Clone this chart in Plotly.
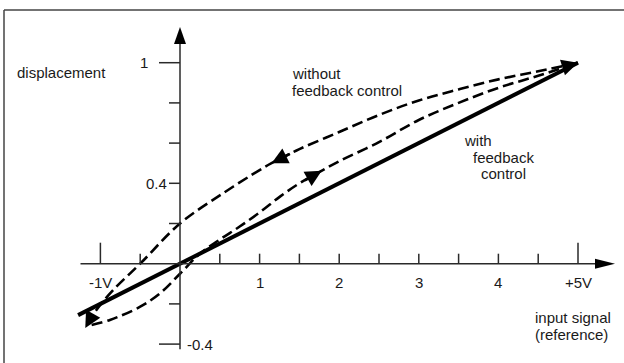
import plotly.graph_objects as go

# ---- data ----
x_with = [-1.28, 0.0, 5.0]
y_with = [-0.256, 0.0, 1.0]

x_up = [-1.11, -0.88, -0.5, -0.25, 0.0, 0.25, 0.5, 0.75, 1.0, 1.26, 1.5, 1.76, 2.0, 2.5, 3.0, 3.5, 4.0, 4.5, 5.0]
y_up = [-0.305, -0.28, -0.214, -0.147, -0.05, 0.05, 0.12, 0.185, 0.255, 0.335, 0.40, 0.458, 0.51, 0.605, 0.715, 0.80, 0.875, 0.935, 1.0]

x_down = [5.0, 4.5, 4.0, 3.5, 3.0, 2.5, 2.0, 1.5, 1.15, 1.0, 0.54, 0.0, -0.5, -0.84, -1.05, -1.19]
y_down = [1.0, 0.957, 0.917, 0.867, 0.812, 0.74, 0.655, 0.57, 0.5, 0.466, 0.35, 0.2, 0.0, -0.131, -0.23, -0.32]

x_ticks_small = [-0.5, 0.5, 1, 1.5, 2, 2.5, 3, 3.5, 4, 4.5]
x_ticks_big = [-1, 5]
x_tick_labels = {-1: "-1V", 1: "1", 2: "2", 3: "3", 4: "4", 5: "+5V"}
y_ticks_small = [0.8, 0.6, 0.4, 0.2, -0.2]
y_ticks_big = [1.0, -0.4]

AX = "#2a2a2a"
FONT = dict(family="Liberation Sans, Arial, Helvetica, sans-serif", size=15, color="#1a1a1a")

fig = go.Figure()
fig.add_trace(go.Scatter(x=x_with, y=y_with, mode="lines",
                         line=dict(color="black", width=4), hoverinfo="skip"))
fig.add_trace(go.Scatter(x=x_up, y=y_up, mode="lines", line_shape="spline",
                         line=dict(color="black", width=2.6, dash="11px,5px"), hoverinfo="skip"))
fig.add_trace(go.Scatter(x=x_down, y=y_down, mode="lines", line_shape="spline",
                         line=dict(color="black", width=2.6, dash="11px,5px"), hoverinfo="skip"))

shapes = []
# frame (top and left)
shapes.append(dict(type="line", xref="paper", yref="paper", x0=4/624, x1=1, y0=1-10/363, y1=1-10/363,
                   line=dict(color="#444", width=1.5)))
shapes.append(dict(type="line", xref="paper", yref="paper", x0=4/624, x1=4/624, y0=0, y1=1-10/363,
                   line=dict(color="#444", width=1.5)))
# axes
shapes.append(dict(type="line", x0=-1.25, x1=5.3, y0=0, y1=0, line=dict(color=AX, width=1.5)))
shapes.append(dict(type="line", x0=0, x1=0, y0=-0.425, y1=1.1, line=dict(color=AX, width=1.5)))
# axis arrowheads
shapes.append(dict(type="path", xsizemode="pixel", ysizemode="pixel", xanchor=5.465, yanchor=0,
                   path="M 0,0 L -20,5 L -20,-5 Z", fillcolor="black", line=dict(width=0)))
shapes.append(dict(type="path", xsizemode="pixel", ysizemode="pixel", xanchor=0, yanchor=1.178,
                   path="M 0,0 L -6,-17 L 6,-17 Z", fillcolor="black", line=dict(width=0)))
# ticks
for t in x_ticks_small:
    shapes.append(dict(type="line", ysizemode="pixel", yanchor=0, x0=t, x1=t, y0=0, y1=10,
                       line=dict(color=AX, width=1.5)))
for t in x_ticks_big:
    shapes.append(dict(type="line", ysizemode="pixel", yanchor=0, x0=t, x1=t, y0=0, y1=21,
                       line=dict(color=AX, width=1.5)))
for t in y_ticks_small:
    shapes.append(dict(type="line", xsizemode="pixel", xanchor=0, x0=-11, x1=0, y0=t, y1=t,
                       line=dict(color=AX, width=1.5)))
for t in y_ticks_big:
    shapes.append(dict(type="line", xsizemode="pixel", xanchor=0, x0=-21, x1=0, y0=t, y1=t,
                       line=dict(color=AX, width=1.5)))

ann = []
for v, s in x_tick_labels.items():
    ann.append(dict(x=v, y=0, text=s, showarrow=False, xanchor="center", yanchor="middle",
                    yshift=-19, font=FONT))
ann.append(dict(x=0, y=1.0, text="1", showarrow=False, xanchor="right", yanchor="middle",
                xshift=-30, font=FONT))
ann.append(dict(x=0, y=0.4, text="0.4", showarrow=False, xanchor="right", yanchor="middle",
                xshift=-11, font=FONT))
ann.append(dict(x=0, y=-0.4, text="-0.4", showarrow=False, xanchor="left", yanchor="middle",
                xshift=5, font=FONT))


def label(px, py, text, anchor="left"):
    ann.append(dict(xref="paper", yref="paper", x=px/624, y=1-py/363, text=text, showarrow=False,
                    xanchor=anchor, yanchor="middle", borderpad=0, font=FONT))


label(16, 72, "displacement")
label(534, 317, "input signal")
label(534, 334, "(reference)")
label(291, 73, "without")
label(291, 90, "feedback control")
label(463, 140, "with")
label(503, 157, "feedback", "center")
label(503, 174, "control", "center")

# curve arrowheads (tip, tail)
arrows = [((1.15, 0.5), (1.4, 0.55)),
          ((1.78, 0.462), (1.55, 0.41)),
          ((-1.19, -0.32), (-1.12, -0.27)),
          ((5.0, 1.0), (4.8, 0.975))]
for (tx, ty), (sx, sy) in arrows:
    ann.append(dict(x=tx, y=ty, ax=sx, ay=sy, axref="x", ayref="y", text="", showarrow=True,
                    arrowhead=2, arrowsize=1.3, arrowwidth=2.5, arrowcolor="black", standoff=0))

fig.update_layout(
    width=624, height=363, autosize=False,
    margin=dict(l=0, r=0, t=0, b=0),
    paper_bgcolor="white", plot_bgcolor="white",
    showlegend=False,
    xaxis=dict(range=[-180/79.6, (624-180)/79.6], visible=False, fixedrange=True),
    yaxis=dict(range=[(263.7-363)/201, 263.7/201], visible=False, fixedrange=True),
    shapes=shapes, annotations=ann,
)
fig.write_html("out.html", config=dict(displayModeBar=False),
               post_script="document.body.style.margin='0';document.body.style.overflow='hidden';")
